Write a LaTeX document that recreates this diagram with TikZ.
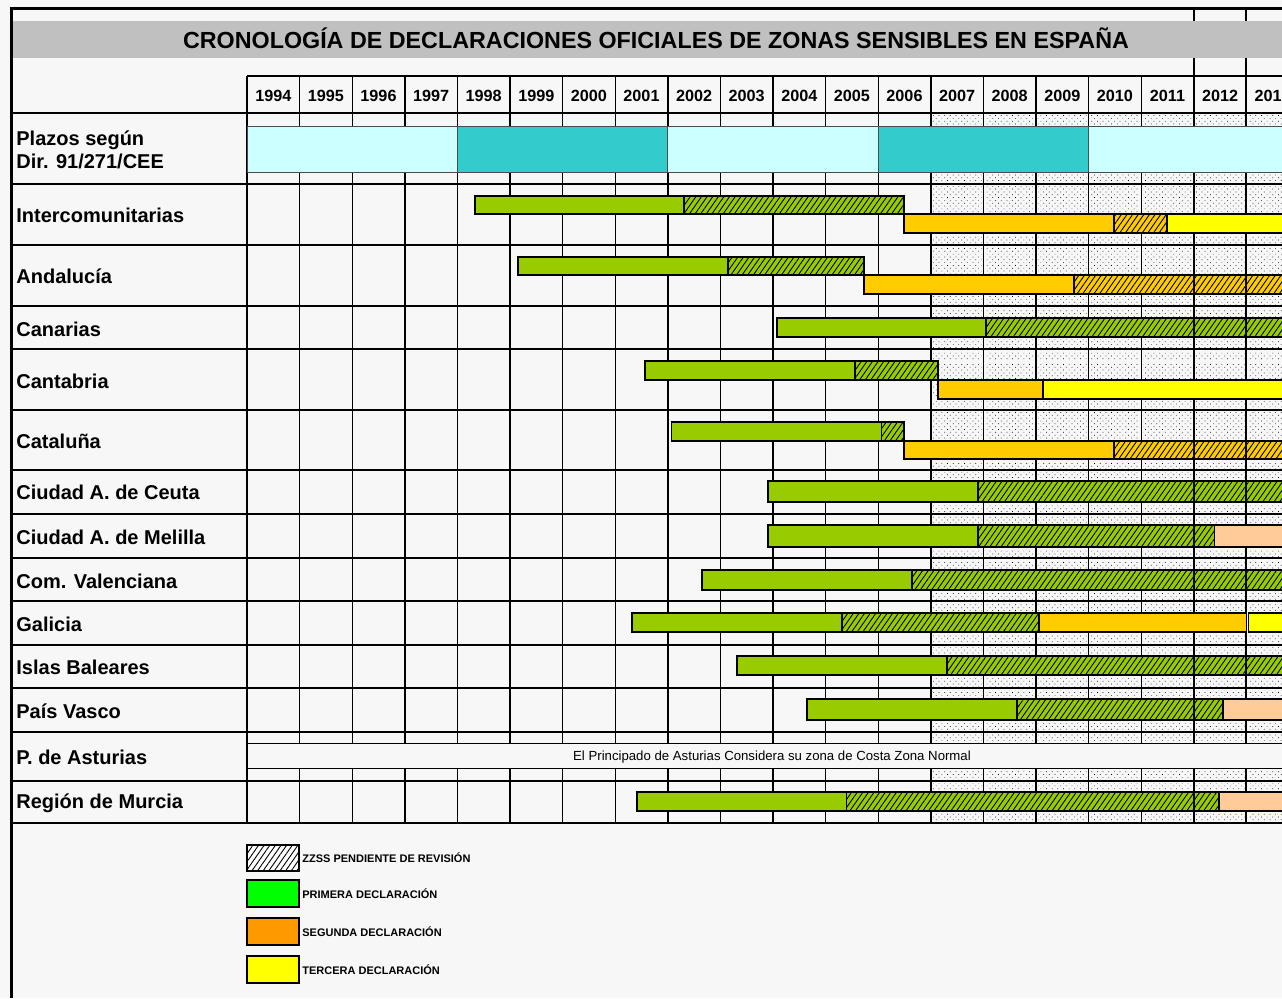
\documentclass[tikz,border=0pt]{standalone}
\usepackage{fontspec}
\setmainfont{Liberation Sans}
\usetikzlibrary{patterns.meta}
\definecolor{fondo}{HTML}{F7F7F7}
\definecolor{gristitulo}{HTML}{C0C0C0}
\definecolor{celeste}{HTML}{CCFFFF}
\definecolor{turquesa}{HTML}{33CCCC}
\definecolor{verde}{HTML}{99CC00}
\definecolor{naranja}{HTML}{FFCC00}
\definecolor{amarillo}{HTML}{FFFF00}
\definecolor{melocoton}{HTML}{FFCC99}
\definecolor{verdeley}{HTML}{00FF00}
\definecolor{naranjaley}{HTML}{FF9900}
\tikzset{
  fila/.style={line width=1pt},
  col/.style={line width=0.7pt},
  sub/.style={line width=0.4pt},
  punteado/.style={pattern={Dots[distance=2pt,radius=0.25pt,angle=45]},pattern color=black},
  rayado/.style={postaction={pattern={Lines[angle=55,distance=2.3pt,line width=0.45pt]}}},
  tramo/.style={draw=black,line width=0.8pt},
  primera/.style={tramo,fill=verde},
  primerarev/.style={tramo,fill=verde,rayado},
  segunda/.style={tramo,fill=naranja},
  segundarev/.style={tramo,fill=naranja,rayado},
  tercera/.style={tramo,fill=amarillo},
  cuarta/.style={tramo,fill=melocoton},
  plazo/.style={draw=black!70,line width=0.5pt},
  titulotxt/.style={font=\bfseries\fontsize{11.65}{13}\selectfont},
  anio/.style={font=\bfseries\fontsize{8.1}{9}\selectfont},
  rotulo/.style={anchor=west,inner sep=0pt,font=\bfseries\fontsize{10}{11.5}\selectfont},
  leyenda/.style={anchor=west,inner sep=0pt,font=\bfseries\fontsize{5.5}{6}\selectfont},
  nota/.style={font=\fontsize{6.6}{7.5}\selectfont}
}
\begin{document}
\begin{tikzpicture}[x=0.5pt,y=-0.5pt,declare function={yr(\t)=247+(\t-1994)*52.6;}]
\useasboundingbox (0,0) rectangle (1282,998);
\clip (0,0) rectangle (1282,998);
\fill[fondo] (0,0) rectangle (1282,998);
% celdas punteadas (2007 en adelante)
\foreach \t/\b in {113/126,172/184,184/214,233/245,245/275,294/306,306/318,337/349,349/361,361/380,380/399,399/410,410/441,459/470,470/481,502/514,514/525,547/558,558/570,590/601,601/613,632/645,645/656,675/688,688/699,720/732,732/743,768/781,781/792,811/823}
  \foreach \a in {2007,...,2013}
    \fill[punteado] ({yr(\a)+2},\t+2) rectangle ({yr(\a+1)-2},\b-2);
% rejilla
\draw[fila] (247,76) -- ({yr(2014)},76);
\foreach \f in {113,184,245,306,349,410,470,514,558,601,645,688,732,781,823}
  \draw[fila] (11,\f) -- ({yr(2014)},\f);
\foreach \a in {1994,...,2014}
  \draw[col] ({yr(\a)},76) -- ({yr(\a)},823);
% tramos pendientes de revision
\draw[primerarev] ({yr(2002.31)},196) rectangle ({yr(2006.49)},214);
\draw[segundarev] ({yr(2010.48)},214) rectangle ({yr(2011.49)},233);
\draw[primerarev] ({yr(2003.14)},257) rectangle ({yr(2005.73)},275);
\draw[segundarev] ({yr(2009.72)},275) rectangle ({yr(2014)},294);
\draw[primerarev] ({yr(2008.05)},318) rectangle ({yr(2014)},337);
\draw[primerarev] ({yr(2005.56)},361) rectangle ({yr(2007.14)},380);
\draw[primerarev] ({yr(2006.06)},422) rectangle ({yr(2006.49)},441);
\draw[segundarev] ({yr(2010.48)},441) rectangle ({yr(2014)},459);
\draw[primerarev] ({yr(2007.9)},481) rectangle ({yr(2014)},502);
\draw[primerarev] ({yr(2007.9)},525) rectangle ({yr(2012.39)},547);
\draw[primerarev] ({yr(2006.64)},570) rectangle ({yr(2014)},590);
\draw[primerarev] ({yr(2005.31)},613) rectangle ({yr(2009.06)},632);
\draw[primerarev] ({yr(2007.31)},656) rectangle ({yr(2014)},675);
\draw[primerarev] ({yr(2008.64)},699) rectangle ({yr(2012.55)},720);
\draw[primerarev] ({yr(2005.4)},792) rectangle ({yr(2012.48)},811);
% saltos de pagina
\draw[line width=1pt] ({yr(2012)},8) -- ({yr(2012)},823);
\draw[line width=1pt] ({yr(2013)},8) -- ({yr(2013)},823);
% plazos
\draw[plazo,fill=celeste] (247,126) rectangle ({yr(1998)},172);
\draw[plazo,fill=turquesa] ({yr(1998)},126) rectangle ({yr(2002)},172);
\draw[plazo,fill=celeste] ({yr(2002)},126) rectangle ({yr(2006)},172);
\draw[plazo,fill=turquesa] ({yr(2006)},126) rectangle ({yr(2010)},172);
\draw[plazo,fill=celeste] ({yr(2010)},126) rectangle ({yr(2014)},172);
% Asturias
\draw[sub,fill=fondo] (247,743) rectangle ({yr(2014)},768);
\node[nota] (asturias) at (772,757.5) {El Principado de Asturias Considera su zona de Costa Zona Normal};
% Intercomunitarias
\draw[primera] ({yr(1998.33)},196) rectangle ({yr(2002.31)},214);
\draw[segunda] ({yr(2006.49)},214) rectangle ({yr(2010.48)},233);
\draw[tercera] ({yr(2011.49)},214) rectangle ({yr(2014)},233);
% Andalucia
\draw[primera] ({yr(1999.15)},257) rectangle ({yr(2003.14)},275);
\draw[segunda] ({yr(2005.73)},275) rectangle ({yr(2009.72)},294);
% Canarias
\draw[primera] ({yr(2004.08)},318) rectangle ({yr(2008.05)},337);
% Cantabria
\draw[primera] ({yr(2001.57)},361) rectangle ({yr(2005.56)},380);
\draw[segunda] ({yr(2007.14)},380) rectangle ({yr(2009.13)},399);
\draw[tercera] ({yr(2009.13)},380) rectangle ({yr(2014)},399);
% Cataluna
\draw[primera] ({yr(2002.07)},422) rectangle ({yr(2006.06)},441);
\draw[segunda] ({yr(2006.49)},441) rectangle ({yr(2010.48)},459);
% Ceuta y Melilla
\draw[primera] ({yr(2003.9)},481) rectangle ({yr(2007.9)},502);
\draw[primera] ({yr(2003.9)},525) rectangle ({yr(2007.9)},547);
\draw[cuarta] ({yr(2012.39)},525) rectangle ({yr(2014)},547);
% Valenciana
\draw[primera] ({yr(2002.65)},570) rectangle ({yr(2006.64)},590);
% Galicia
\draw[primera] ({yr(2001.32)},613) rectangle ({yr(2005.31)},632);
\draw[segunda] ({yr(2009.06)},613) rectangle ({yr(2013)},632);
\draw[tercera] ({yr(2013.04)},613) rectangle ({yr(2014)},632);
% Baleares
\draw[primera] ({yr(2003.32)},656) rectangle ({yr(2007.31)},675);
% Pais Vasco
\draw[primera] ({yr(2004.65)},699) rectangle ({yr(2008.64)},720);
\draw[cuarta] ({yr(2012.55)},699) rectangle ({yr(2014)},720);
% Murcia
\draw[primera] ({yr(2001.41)},792) rectangle ({yr(2005.4)},811);
\draw[cuarta] ({yr(2012.48)},792) rectangle ({yr(2014)},811);
% titulo
\fill[gristitulo] (11,21) rectangle (1282,58);
\node[titulotxt] (titulo) at (656,38.5) {CRONOLOGÍA DE DECLARACIONES OFICIALES DE ZONAS SENSIBLES EN ESPAÑA};
% anios
\foreach \a in {1994,...,2013}
  \node[anio] (a\a) at ({yr(\a)+26.3},95.5) {\a};
% rotulos de filas
\node[rotulo,align=left] (plazos) at (16,149.5) {Plazos según\\Dir. 91/271/CEE};
\node[rotulo] (intercom) at (16,215) {Intercomunitarias};
\node[rotulo] (andalucia) at (16,276) {Andalucía};
\node[rotulo] (canarias) at (16,329) {Canarias};
\node[rotulo] (cantabria) at (16,381) {Cantabria};
\node[rotulo] (cataluna) at (16,441) {Cataluña};
\node[rotulo] (ceuta) at (16,492) {Ciudad A. de Ceuta};
\node[rotulo] (melilla) at (16,537) {Ciudad A. de Melilla};
\node[rotulo] (valenciana) at (16,581) {Com. Valenciana};
\node[rotulo] (galicia) at (16,624) {Galicia};
\node[rotulo] (baleares) at (16,667) {Islas Baleares};
\node[rotulo] (vasco) at (16,711) {País Vasco};
\node[rotulo] (pasturias) at (16,757) {P. de Asturias};
\node[rotulo] (murcia) at (16,803) {Región de Murcia};
% leyenda
\draw[tramo,fill=white,rayado] (247,845) rectangle (299,871);
\draw[tramo,fill=verdeley] (247,880) rectangle (299,907);
\draw[tramo,fill=naranjaley] (247,918) rectangle (299,945);
\draw[tramo,fill=amarillo] (247,956) rectangle (299,983);
\node[leyenda] (leyrev) at (302,858) {ZZSS PENDIENTE DE REVISIÓN};
\node[leyenda] (leypri) at (302,894) {PRIMERA DECLARACIÓN};
\node[leyenda] (leyseg) at (302,932) {SEGUNDA DECLARACIÓN};
\node[leyenda] (leyter) at (302,970) {TERCERA DECLARACIÓN};
% marco
\draw[line width=1.5pt] (11,998) -- (11,8) -- (1282,8);
\end{tikzpicture}
\end{document}
